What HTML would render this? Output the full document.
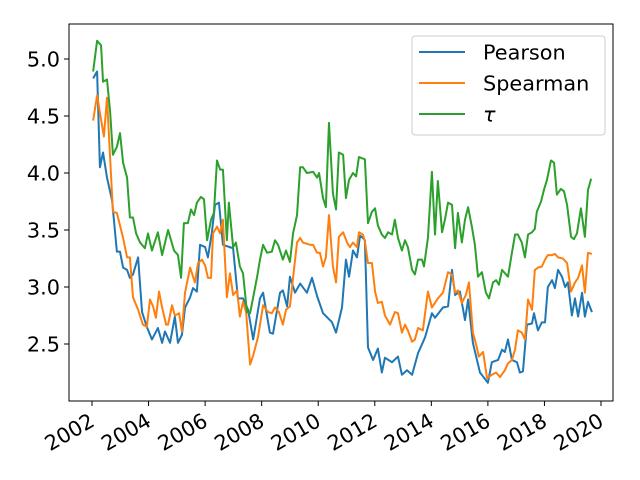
<!DOCTYPE html>
<html><head><meta charset="utf-8"><style>
body{margin:0;background:#fff}
svg{display:block;font-family:"DejaVu Sans","Liberation Sans",sans-serif}
</style></head><body>
<svg id="chart" width="640" height="480">
<rect width="640" height="480" fill="#fff"/>
<g id="plot"></g>
<rect x="69" y="24" width="544" height="377" fill="none" stroke="#000" stroke-width="1"/>
<g id="yaxis"></g>
<g id="xaxis"></g>
<g>
<rect x="412" y="36" width="193" height="99" rx="3" fill="#fff" fill-opacity="0.8" stroke="#ccc"/>
<line x1="419" y1="52" x2="465" y2="52" stroke="#1f77b4" stroke-width="2"/>
<text x="483" y="59.5" font-size="20.8">Pearson</text>
<line x1="419" y1="83" x2="465" y2="83" stroke="#ff7f0e" stroke-width="2"/>
<text x="483" y="90.5" font-size="20.8">Spearman</text>
<line x1="419" y1="114" x2="465" y2="114" stroke="#2ca02c" stroke-width="2"/>
<text x="483" y="121.5" font-size="20.8" font-style="italic">τ</text>
</g>
</svg>
<script>
const pearson=[[2002.04,4.83],[2002.18,4.89],[2002.28,4.05],[2002.39,4.18],[2002.53,3.96],[2002.71,3.76],[2002.88,3.31],[2002.99,3.31],[2003.10,3.17],[2003.24,3.15],[2003.34,3.08],[2003.45,3.11],[2003.63,3.26],[2003.77,2.78],[2003.94,2.65],[2004.12,2.54],[2004.33,2.64],[2004.48,2.51],[2004.58,2.61],[2004.76,2.51],[2004.93,2.74],[2005.04,2.51],[2005.18,2.58],[2005.29,2.82],[2005.47,2.91],[2005.57,2.99],[2005.71,2.96],[2005.82,3.37],[2006.00,3.35],[2006.10,3.26],[2006.24,3.48],[2006.35,3.72],[2006.49,3.74],[2006.63,3.37],[2006.99,3.34],[2007.16,2.90],[2007.34,2.90],[2007.52,2.80],[2007.70,2.54],[2007.94,2.90],[2008.05,2.95],[2008.29,2.60],[2008.40,2.59],[2008.65,2.95],[2008.75,2.97],[2008.90,2.83],[2009.00,3.09],[2009.18,2.95],[2009.36,3.03],[2009.60,2.95],[2009.78,3.08],[2009.96,2.92],[2010.17,2.77],[2010.49,2.69],[2010.63,2.60],[2010.84,2.82],[2010.98,3.24],[2011.09,3.09],[2011.23,3.32],[2011.37,3.26],[2011.48,3.45],[2011.58,3.43],[2011.65,3.41],[2011.76,2.47],[2011.94,2.36],[2012.11,2.46],[2012.25,2.25],[2012.36,2.38],[2012.61,2.34],[2012.82,2.39],[2012.96,2.23],[2013.14,2.27],[2013.32,2.23],[2013.53,2.42],[2013.78,2.56],[2014.02,2.77],[2014.13,2.73],[2014.41,2.82],[2014.59,2.83],[2014.73,3.15],[2014.84,2.93],[2015.01,2.96],[2015.19,2.71],[2015.30,2.89],[2015.47,2.51],[2015.72,2.25],[2016.00,2.16],[2016.14,2.34],[2016.36,2.36],[2016.50,2.45],[2016.60,2.43],[2016.71,2.54],[2016.85,2.36],[2017.03,2.34],[2017.13,2.25],[2017.24,2.26],[2017.38,2.67],[2017.56,2.68],[2017.63,2.77],[2017.77,2.62],[2017.91,2.69],[2018.02,2.69],[2018.12,3.00],[2018.27,3.06],[2018.37,2.99],[2018.48,3.15],[2018.62,3.09],[2018.73,3.00],[2018.83,3.04],[2018.97,2.75],[2019.08,2.90],[2019.19,2.74],[2019.33,2.95],[2019.43,2.74],[2019.54,2.87],[2019.68,2.78]];
const spearman=[[2002.04,4.46],[2002.18,4.68],[2002.42,4.32],[2002.53,4.66],[2002.74,3.66],[2002.88,3.65],[2003.10,3.43],[2003.24,3.26],[2003.34,3.26],[2003.45,2.91],[2003.63,2.80],[2003.80,2.67],[2003.94,2.65],[2004.05,2.89],[2004.16,2.83],[2004.26,2.73],[2004.37,2.96],[2004.48,2.82],[2004.62,2.67],[2004.69,2.67],[2004.83,2.84],[2004.93,2.75],[2005.08,2.77],[2005.18,2.61],[2005.29,2.95],[2005.47,3.17],[2005.64,3.04],[2005.75,3.21],[2005.89,3.24],[2006.00,3.19],[2006.10,3.08],[2006.21,3.08],[2006.28,3.47],[2006.42,3.53],[2006.53,3.47],[2006.63,3.59],[2006.77,2.91],[2006.88,3.12],[2006.99,2.93],[2007.13,2.97],[2007.23,2.74],[2007.34,2.87],[2007.45,2.78],[2007.59,2.32],[2007.70,2.40],[2007.87,2.56],[2008.05,2.84],[2008.22,2.78],[2008.36,2.77],[2008.47,2.82],[2008.61,2.78],[2008.75,2.67],[2008.86,2.80],[2009.00,2.83],[2009.11,3.08],[2009.25,3.39],[2009.36,3.43],[2009.46,3.39],[2009.71,3.37],[2009.82,3.37],[2009.96,3.30],[2010.06,3.30],[2010.17,3.18],[2010.27,3.26],[2010.38,3.63],[2010.52,3.18],[2010.63,3.04],[2010.73,3.44],[2010.88,3.48],[2011.02,3.39],[2011.12,3.35],[2011.23,3.39],[2011.37,3.35],[2011.44,3.48],[2011.58,3.46],[2011.65,3.40],[2011.76,3.21],[2011.90,3.21],[2012.01,2.96],[2012.11,2.86],[2012.25,2.87],[2012.36,2.75],[2012.54,2.67],[2012.71,2.78],[2012.82,2.77],[2012.96,2.60],[2013.07,2.67],[2013.17,2.62],[2013.32,2.52],[2013.42,2.54],[2013.53,2.64],[2013.70,2.62],[2013.88,2.96],[2014.02,2.82],[2014.23,2.90],[2014.41,2.95],[2014.59,3.13],[2014.73,3.11],[2014.84,2.95],[2014.94,2.97],[2015.08,2.86],[2015.22,2.93],[2015.33,3.04],[2015.47,2.60],[2015.61,2.47],[2015.68,2.39],[2015.83,2.43],[2015.97,2.20],[2016.14,2.23],[2016.29,2.25],[2016.43,2.21],[2016.60,2.27],[2016.71,2.33],[2016.85,2.36],[2016.96,2.45],[2017.06,2.62],[2017.20,2.60],[2017.31,2.54],[2017.42,2.89],[2017.56,2.80],[2017.66,3.15],[2017.77,3.17],[2017.91,3.18],[2018.02,3.24],[2018.12,3.28],[2018.27,3.28],[2018.37,3.29],[2018.48,3.26],[2018.65,3.25],[2018.80,3.21],[2018.94,2.96],[2019.08,3.04],[2019.19,3.08],[2019.33,3.19],[2019.43,2.95],[2019.54,3.30],[2019.68,3.29]];
const tau=[[2002.04,4.89],[2002.18,5.16],[2002.32,5.12],[2002.39,4.80],[2002.53,4.82],[2002.64,4.54],[2002.74,4.16],[2002.88,4.23],[2002.99,4.35],[2003.10,4.09],[2003.24,3.96],[2003.34,3.61],[2003.45,3.61],[2003.56,3.47],[2003.70,3.39],[2003.87,3.34],[2003.98,3.47],[2004.12,3.32],[2004.33,3.48],[2004.48,3.28],[2004.69,3.50],[2004.90,3.32],[2005.04,3.28],[2005.15,3.08],[2005.25,3.56],[2005.39,3.56],[2005.50,3.68],[2005.61,3.63],[2005.71,3.74],[2005.85,3.79],[2005.96,3.77],[2006.07,3.41],[2006.21,3.59],[2006.31,3.65],[2006.42,4.11],[2006.53,4.03],[2006.63,4.03],[2006.77,3.41],[2006.84,3.74],[2006.99,3.35],[2007.09,3.39],[2007.23,3.18],[2007.34,3.12],[2007.48,2.78],[2007.59,2.77],[2007.70,2.91],[2007.84,3.09],[2007.94,3.24],[2008.05,3.37],[2008.19,3.30],[2008.36,3.31],[2008.47,3.41],[2008.58,3.37],[2008.75,3.24],[2008.86,3.32],[2009.00,3.22],[2009.11,3.47],[2009.25,3.63],[2009.36,4.05],[2009.46,4.05],[2009.60,4.00],[2009.82,4.01],[2009.96,3.96],[2010.03,4.00],[2010.17,3.78],[2010.27,3.70],[2010.38,4.44],[2010.52,3.82],[2010.63,3.68],[2010.73,4.18],[2010.88,4.16],[2010.98,3.78],[2011.09,3.94],[2011.23,4.00],[2011.34,3.97],[2011.44,4.14],[2011.65,4.12],[2011.76,3.56],[2011.90,3.66],[2012.01,3.69],[2012.11,3.54],[2012.25,3.46],[2012.36,3.43],[2012.47,3.48],[2012.61,3.46],[2012.71,3.59],[2012.82,3.43],[2012.96,3.32],[2013.07,3.41],[2013.17,3.35],[2013.32,3.15],[2013.42,3.11],[2013.53,3.24],[2013.67,3.24],[2013.74,3.18],[2013.88,3.43],[2014.02,4.01],[2014.13,3.46],[2014.23,3.93],[2014.38,3.48],[2014.48,3.59],[2014.59,3.74],[2014.73,3.72],[2014.84,3.34],[2014.94,3.65],[2015.08,3.39],[2015.19,3.59],[2015.30,3.70],[2015.44,3.52],[2015.54,3.37],[2015.65,3.09],[2015.79,3.13],[2015.93,2.95],[2016.04,2.90],[2016.18,3.04],[2016.29,3.06],[2016.39,3.02],[2016.50,3.15],[2016.71,3.09],[2016.85,3.30],[2016.96,3.46],[2017.06,3.46],[2017.20,3.39],[2017.31,3.26],[2017.42,3.46],[2017.56,3.48],[2017.66,3.51],[2017.73,3.66],[2017.88,3.75],[2017.98,3.85],[2018.09,3.94],[2018.23,4.11],[2018.34,4.09],[2018.44,3.81],[2018.58,3.86],[2018.69,3.84],[2018.80,3.72],[2018.94,3.44],[2019.04,3.42],[2019.15,3.47],[2019.29,3.69],[2019.43,3.44],[2019.54,3.85],[2019.65,3.95]];
const yTicks=[2.5,3.0,3.5,4.0,4.5,5.0];
const yTickLabels=["2.5","3.0","3.5","4.0","4.5","5.0"];
const xTicks=[2002,2004,2006,2008,2010,2012,2014,2016,2018,2020];
const xTickLabels=["2002","2004","2006","2008","2010","2012","2014","2016","2018","2020"];

const NS="http://www.w3.org/2000/svg";
function xs(t){return 92+(t-2002)*(509/18);}
function ys(v){return 59+(5.0-v)*114;}
function mk(tag,attrs,parent){const e=document.createElementNS(NS,tag);for(const k in attrs)e.setAttribute(k,attrs[k]);parent.appendChild(e);return e;}

const plot=document.getElementById('plot');
const series=[[pearson,'#1f77b4','pearson-line'],[spearman,'#ff7f0e','spearman-line'],[tau,'#2ca02c','tau-line']];
series.forEach(s=>{
  const d=s[0].map((p,i)=>(i?'L':'M')+xs(p[0]).toFixed(2)+' '+ys(p[1]).toFixed(2)).join(' ');
  const path=mk('path',{d:d,fill:'none',stroke:s[1],'stroke-width':'2','stroke-linejoin':'round'},plot);
  
  
});

const ya=document.getElementById('yaxis');
yTicks.forEach((v,i)=>{
  const y=ys(v);
  const tk=mk('line',{x1:64,x2:69,y1:y,y2:y,stroke:'#000','stroke-width':'1'},ya);
  
  
  const t=mk('text',{x:60,y:y+7.5,'text-anchor':'end','font-size':'20.8'},ya);
  t.textContent=yTickLabels[i];
  
  
});
const xa=document.getElementById('xaxis');
xTicks.forEach((v,i)=>{
  const x=xs(v);
  const tk=mk('line',{x1:x,x2:x,y1:401,y2:406,stroke:'#000','stroke-width':'1'},xa);
  
  
  const t=mk('text',{x:0,y:0,'text-anchor':'end','font-size':'20.8',transform:'translate('+(x+4)+',425) rotate(-30)'},xa);
  t.textContent=xTickLabels[i];
  
  
});
</script>
</body></html>
